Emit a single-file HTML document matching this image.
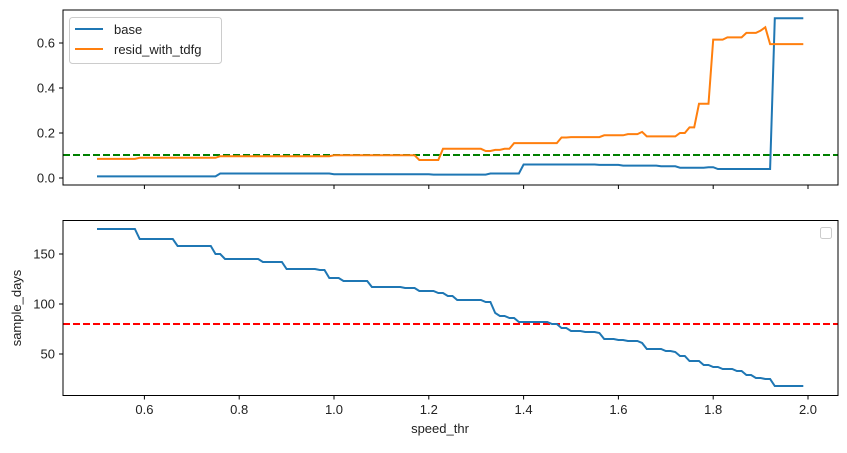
<!DOCTYPE html>
<html><head><meta charset="utf-8"><style>
body{margin:0;background:#fff}
svg text{font-family:"Liberation Sans","Noto Sans CJK SC",sans-serif;font-size:13px;fill:#222}
</style></head><body>
<svg id="s" width="847" height="448" xmlns="http://www.w3.org/2000/svg">
<rect width="847" height="448" fill="#fff"/>
<g id="g"></g>
<line x1="63" y1="155" x2="838" y2="155" stroke="green" stroke-width="2" stroke-dasharray="7,3"/>
<polyline id="pb" fill="none" stroke="#1f77b4" stroke-width="2"/>
<polyline id="po" fill="none" stroke="#ff7f0e" stroke-width="2"/>
<rect x="63" y="10" width="775" height="175" fill="none" stroke="#000" stroke-width="1"/>
<line x1="63" y1="324" x2="838" y2="324" stroke="red" stroke-width="2" stroke-dasharray="7,3"/>
<polyline id="pd" fill="none" stroke="#1f77b4" stroke-width="2"/>
<rect x="63" y="220.5" width="775" height="175" fill="none" stroke="#000" stroke-width="1"/>
<rect x="69.5" y="17.5" width="152" height="46" rx="3" fill="#fff" stroke="#ccc"/>
<line x1="75" y1="29" x2="103" y2="29" stroke="#1f77b4" stroke-width="2"/>
<text x="114" y="34">base</text>
<line x1="75" y1="49" x2="103" y2="49" stroke="#ff7f0e" stroke-width="2"/>
<text x="114" y="54">resid_with_tdfg</text>
<rect x="820.5" y="227.5" width="11" height="11" rx="2" fill="#fff" stroke="#ccc"/>
<text x="440" y="433" text-anchor="middle">speed_thr</text>
<text transform="translate(21,308) rotate(-90)" text-anchor="middle">sample_days</text>
</svg>
<script>
const X=v=>334+(v-1)*474;
const g=document.getElementById('g');let h='';
[0.6,0.8,1.0,1.2,1.4,1.6,1.8,2.0].forEach(v=>{const x=X(v);
h+=`<line x1="${x}" y1="185" x2="${x}" y2="189" stroke="#000"/>`;
h+=`<line x1="${x}" y1="395.5" x2="${x}" y2="399.5" stroke="#000"/>`;
h+=`<text x="${x}" y="414" text-anchor="middle">${v.toFixed(1)}</text>`;});
[0,0.2,0.4,0.6].forEach(v=>{const y=178-v*225;
h+=`<line x1="59" y1="${y}" x2="63" y2="${y}" stroke="#000"/><text x="55" y="${y+4.5}" text-anchor="end">${v.toFixed(1)}</text>`;});
[50,100,150].forEach(v=>{const y=404-v;
h+=`<line x1="59" y1="${y}" x2="63" y2="${y}" stroke="#000"/><text x="55" y="${y+4.5}" text-anchor="end">${v}</text>`;});
g.innerHTML=h;
function steps(arr){let pts=[];for(let i=0;i<arr.length;i++){const [v,y]=arr[i];if(i>0)pts.push([v,arr[i-1][1]]);pts.push([v+0.01,y]);}
pts[0][0]=0.5;return pts;}
function draw(id,arr,fy){const pts=steps(arr);pts.push([1.99,arr[arr.length-1][1]]);
document.getElementById(id).setAttribute('points',pts.map(p=>X(p[0]).toFixed(1)+','+fy(p[1]).toFixed(1)).join(' '));}
const ty=v=>178-v*225;
draw('po',[[0.49,0.085],[0.58,0.09],[0.75,0.097],[0.99,0.101],[1.17,0.08],[1.22,0.13],[1.30,0.13],[1.31,0.12],[1.33,0.125],[1.35,0.13],[1.37,0.155],[1.47,0.18],[1.49,0.182],[1.56,0.19],[1.61,0.195],[1.64,0.205],[1.65,0.185],[1.72,0.2],[1.74,0.225],[1.76,0.33],[1.79,0.615],[1.82,0.625],[1.86,0.645],[1.89,0.655],[1.90,0.67],[1.91,0.595]],ty);
draw('pb',[[0.49,0.007],[0.75,0.02],[0.99,0.017],[1.2,0.015],[1.32,0.02],[1.39,0.06],[1.55,0.058],[1.6,0.055],[1.68,0.052],[1.72,0.046],[1.78,0.048],[1.8,0.04],[1.92,0.71]],ty);
const by=v=>404-v;
draw('pd',[[0.49,175],[0.58,165],[0.66,158],[0.74,150],[0.76,145],[0.84,142],[0.89,135],[0.96,134],[0.98,126],[1.01,123],[1.07,117],[1.14,116],[1.17,113],[1.21,111],[1.23,108],[1.25,104],[1.31,102],[1.33,91],[1.34,88],[1.36,86],[1.38,82],[1.45,80],[1.47,76],[1.49,73],[1.52,72],[1.55,71],[1.56,65],[1.59,64],[1.61,63],[1.64,61],[1.65,55],[1.69,53],[1.71,52],[1.72,48],[1.74,43],[1.77,39],[1.79,37],[1.81,35],[1.84,33],[1.86,29],[1.88,26],[1.90,25],[1.92,18]],by);
</script>
</body></html>
